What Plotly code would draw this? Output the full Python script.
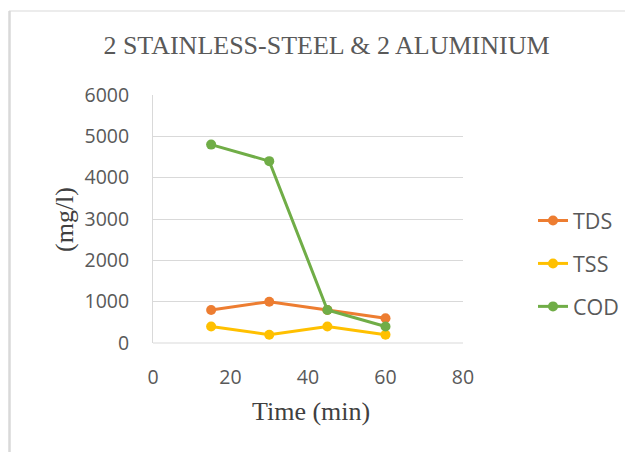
import plotly.graph_objects as go

time_min = [15, 30, 45, 60]
tds = [800, 1000, 800, 600]
tss = [400, 200, 400, 200]
cod = [4800, 4400, 800, 400]
series = [("TDS", tds, "#ED7D31"), ("TSS", tss, "#FFC000"), ("COD", cod, "#70AD47")]

fig = go.Figure()
for name, vals, col in series:
    fig.add_trace(go.Scatter(x=time_min, y=vals, name=name, mode="lines+markers",
                             line=dict(color=col, width=3), marker=dict(color=col, size=10),
                             legendgroup=name))

# figure is placed at (8,8) by the page body margin; coordinates below are figure pixels
W, H = 625, 444
L, R, T, B = 145, 455, 87, 335
pw, ph = R - L, B - T
def px(x): return (x - L) / pw
def py(y): return (B - y) / ph

SANS = "Open Sans"
SERIF = "Liberation Serif"

fig.update_layout(
    width=W, height=H,
    margin=dict(l=L, r=W - R, t=T, b=H - B, autoexpand=False),
    paper_bgcolor="white", plot_bgcolor="white",
    title=dict(text="2 STAINLESS-STEEL & 2 ALUMINIUM", x=318.5 / W, xanchor="center",
               y=1 - 37 / H, yanchor="middle",
               font=dict(family=SERIF, size=26, color="#595959")),
    xaxis=dict(range=[0, 80], dtick=20, showgrid=False, zeroline=False,
               showline=False, ticks="", ticklabelstandoff=20,
               tickfont=dict(family=SANS, size=19.5, color="#595959")),
    yaxis=dict(range=[0, 6000], dtick=1000, showgrid=True, gridcolor="#D9D9D9", gridwidth=1,
               zeroline=False, showline=True, linecolor="#D9D9D9", linewidth=1, ticks="",
               ticklabelstandoff=19,
               tickfont=dict(family=SANS, size=19.5, color="#595959")),
    legend=dict(x=px(525), y=py(192), xanchor="left", yanchor="top",
                font=dict(family=SANS, size=21.5, color="#595959"),
                tracegroupgap=12, traceorder="grouped", bgcolor="rgba(0,0,0,0)"),
    showlegend=True,
    annotations=[
        dict(text="Time (min)", xref="paper", yref="paper", x=px(303), y=py(403),
             xanchor="center", yanchor="middle", showarrow=False,
             font=dict(family=SERIF, size=26, color="#404040")),
        dict(text="(mg/l)", xref="paper", yref="paper", x=px(56), y=py(212),
             xanchor="center", yanchor="middle", showarrow=False, textangle=-90,
             font=dict(family=SERIF, size=26, color="#404040")),
    ],
)
# x axis baseline
fig.add_shape(type="line", xref="paper", yref="paper", x0=0, x1=1, y0=0, y1=0,
              line=dict(color="#D9D9D9", width=1))
# chart border (top and left visible)
fig.add_shape(type="line", xref="paper", yref="paper", x0=px(1), x1=px(W + 5), y0=py(3), y1=py(3),
              line=dict(color="#D9D9D9", width=1))
fig.add_shape(type="line", xref="paper", yref="paper", x0=px(1.5), x1=px(1.5), y0=py(3), y1=py(H + 5),
              line=dict(color="#D9D9D9", width=2.5))

fig.write_html("out.html")
